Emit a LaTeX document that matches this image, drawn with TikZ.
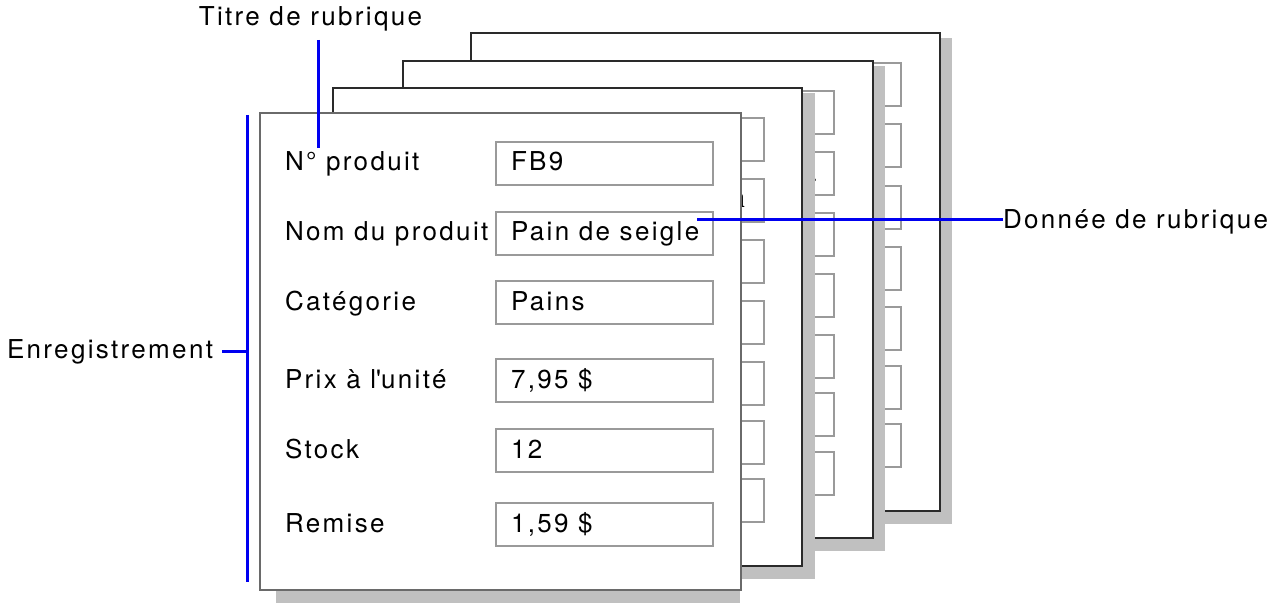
\documentclass[tikz,border=0pt]{standalone}
\usepackage{fontspec}
\setmainfont{TeX Gyre Heros}[LetterSpace=9]
\newfontfamily\stray{Liberation Serif}[BoldFont=* Bold]
\usetikzlibrary{calc}
\definecolor{cardline}{HTML}{2A2A2A}
\definecolor{frontline}{HTML}{6A6A6A}
\definecolor{fieldline}{HTML}{9A9A9A}
\definecolor{shadowgray}{HTML}{C0C0C0}
\definecolor{callblue}{HTML}{0000F0}
\begin{document}
\begin{tikzpicture}[x=1pt,y=-1pt,
  card/.style={draw=cardline,line width=1.2pt,fill=white,anchor=north west,inner sep=0,outer sep=0},
  frontcard/.style={draw=frontline,line width=1.8pt,fill=white,anchor=north west,inner sep=0,outer sep=0},
  shadow/.style={fill=shadowgray,draw=none},
  field/.style={draw=fieldline,line width=1.2pt,fill=white,anchor=north east,inner sep=0,outer sep=0,minimum width=217pt,minimum height=43pt},
  txt/.style={anchor=base west,inner sep=0,outer sep=0,font=\fontsize{26}{30}\selectfont},
  callout/.style={draw=callblue,line width=3pt}]
\useasboundingbox (0,0) rectangle (1282,612);
\fill[white] (0,0) rectangle (1282,612);

% card 4 (back)
\fill[shadow] (487,38) rectangle (952,524);
\node[card,minimum width=469pt,minimum height=478pt] (c4) at (471,33) {};
\foreach \t [count=\i] in {63,124,186,247,307,366,424}
  \node[field] (c4f\i) at (901,\t) {};

% card 3
\fill[shadow] (419,66) rectangle (885,551);
\node[card,minimum width=470pt,minimum height=477pt] (c3) at (403,61) {};
\foreach \t [count=\i] in {91,152,213,274,335,393,452}
  \node[field] (c3f\i) at (834,\t) {};
\node[anchor=base west,inner sep=0,font=\stray\fontsize{26}{30}\selectfont] (c3dot) at (811,182) {.};

% card 2
\fill[shadow] (349,93) rectangle (815,579);
\node[card,minimum width=469pt,minimum height=478pt] (c2) at (333,88) {};
\foreach \t [count=\i] in {118,179,240,301,362,421,479}
  \node[field] (c2f\i) at (764,\t) {};
\node[anchor=base east,inner sep=0,font=\stray\bfseries\fontsize{30}{34}\selectfont] (c2a) at (745,208) {a};

% front card
\fill[shadow] (276,118) rectangle (740,603);
\node[frontcard,minimum width=481pt,minimum height=477pt] (c1) at (260,113) {};
\foreach \t/\lab/\val [count=\i] in {142/N° produit/FB9,212/Nom du produit/Pain de seigle,281/Catégorie/Pains,359/Prix à l\textquotesingle unité/{7,95 \$},429/Stock/12,503/Remise/{1,59 \$}}
{
  \node[field] (f\i) at (713,\t) {};
  \node[txt] (l\i) at (285,\t+29) {\lab};
  \node[txt] (v\i) at (511,\t+29) {\val};
}

% callouts
\node[txt,anchor=base] (titre) at (310.5,26) {Titre de rubrique};
\coordinate (titreA) at (318,40);
\coordinate (titreB) at (318,148);
\draw[callout] (titreA) -- (titreB);

\node[txt] (enreg) at (7,358) {Enregistrement};
\coordinate (enrTop) at (247,115);
\coordinate (enrBot) at (247,582);
\coordinate (enrMid) at (247,351);
\coordinate (enrTick) at (222,351);
\draw[callout] (enrTop) -- (enrBot);
\draw[callout] (enrTick) -- (enrMid);

\node[txt] (donnee) at (1003,229) {Donnée de rubrique};
\coordinate (donA) at (697,220);
\draw[callout] (donA) -- (donnee.west |- donA);
\end{tikzpicture}
\end{document}
